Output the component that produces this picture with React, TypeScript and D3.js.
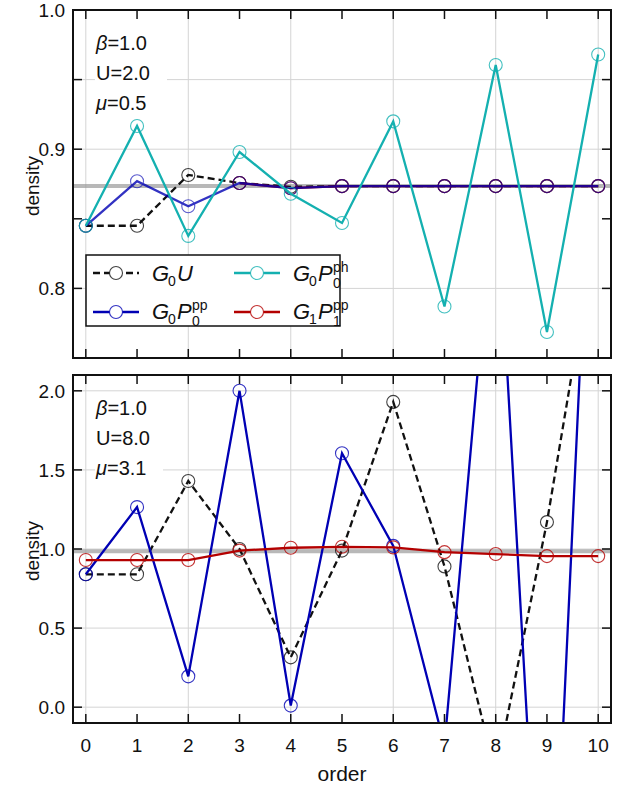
import * as d3 from "d3";

const orders = [0, 1, 2, 3, 4, 5, 6, 7, 8, 9, 10];
const orderLabels = ["0", "1", "2", "3", "4", "5", "6", "7", "8", "9", "10"];
const gridOrders = [0, 2, 4, 6, 8, 10];

// top panel: beta=1, U=2, mu=0.5
const topG0U = [0.845, 0.845, 0.8815, 0.8757, 0.873, 0.8735, 0.8735, 0.8735, 0.8735, 0.8735, 0.8735];
const topG0Ppp = [0.845, 0.877, 0.859, 0.8757, 0.872, 0.8735, 0.8735, 0.8735, 0.8735, 0.8735, 0.8735];
const topG0Pph = [0.845, 0.9167, 0.8377, 0.898, 0.868, 0.847, 0.92, 0.787, 0.9605, 0.7687, 0.968];
const topG1Ppp = [null, null, null, 0.8757, 0.872, 0.8735, 0.8735, 0.8735, 0.8735, 0.8735, 0.8735];
const topRef = 0.8736;
const topTicks = [0.8, 0.85, 0.9, 0.95, 1.0];
const topLabelTicks = [0.8, 0.9, 1.0];
const topLabels = ["0.8", "0.9", "1.0"];
const topGrid = [0.8, 0.9, 0.95];

// bottom panel: beta=1, U=8, mu=3.1
const botG0U = [0.84, 0.84, 1.43, 1.0, 0.315, 0.99, 1.93, 0.89, -0.42, 1.17, 3.1];
const botG0Ppp = [0.84, 1.265, 0.195, 2.0, 0.01, 1.605, 1.02, -0.24, 3.4, -2.3, 4.6];
const botG1Ppp = [0.93, 0.93, 0.93, 0.99, 1.008, 1.014, 1.01, 0.98, 0.968, 0.955, 0.955];
const botRef = 0.985;
const botTicks = [0, 0.5, 1.0, 1.5, 2.0];
const botLabels = ["0.0", "0.5", "1.0", "1.5", "2.0"];

const FONT = "'Liberation Sans', Arial, sans-serif";
const C_BLACK = "#111111";
const C_BLUE = "#0000b4";
const C_CYAN = "#14b0b0";
const C_RED = "#b40000";
const DASH = "7,4";

const left = 73;
const right = 611;
const x = d3.scaleLinear().domain([-0.25, 10.25]).range([left, right]);

type Series = { values: (number | null)[]; color: string; dash?: string; opacity?: number };

function Panel({ id, top, bottom, domain, ticks, labelTicks, labels, grid, ref0, series, notes, showXLabels }: any) {
  const y = d3.scaleLinear().domain(domain).range([bottom, top]);
  const line = d3
    .line<[number, number | null]>()
    .defined((d) => d[1] != null)
    .x((d) => x(d[0]))
    .y((d) => y(d[1] as number));
  const tl = 9;
  return (
    <g>
      <defs>
        <clipPath id={id}>
          <rect x={left} y={top} width={right - left} height={bottom - top} />
        </clipPath>
      </defs>
      <g stroke="#d4d4d4" strokeWidth={1}>
        {gridOrders.map((o) => (
          <line key={"gx" + o} x1={x(o)} x2={x(o)} y1={top} y2={bottom} />
        ))}
        {grid.map((v: number) => (
          <line key={"gy" + v} x1={left} x2={right} y1={y(v)} y2={y(v)} />
        ))}
      </g>
      <g clipPath={`url(#${id})`}>
        <line x1={left} x2={right} y1={y(ref0)} y2={y(ref0)} stroke="#9a9a9a" strokeOpacity={0.7} strokeWidth={4} />
        {series.map((s: Series, i: number) => {
          const pts = orders.map((o, k) => [o, s.values[k]] as [number, number | null]);
          return (
            <g key={i} opacity={s.opacity ?? 1}>
              <path d={line(pts) || ""} fill="none" stroke={s.color} strokeWidth={2.3} strokeDasharray={s.dash} />
              {pts
                .filter((p) => p[1] != null)
                .map((p) => (
                  <circle key={p[0]} cx={x(p[0])} cy={y(p[1] as number)} r={6.5} fill="none" stroke={s.color} strokeOpacity={0.8} strokeWidth={1.1} />
                ))}
            </g>
          );
        })}
      </g>
      {notes.map((n: any, i: number) => (
        <g key={"n" + i}>
          <rect x={95} y={top + 22 + i * 30} width={n.w} height={26} fill="white" />
          <text x={96} y={top + 40 + i * 30} fontSize={20} fontFamily={FONT} fill="#111">
            <tspan fontStyle={n.italic ? "italic" : "normal"}>{n.sym}</tspan>
            {n.rest}
          </text>
        </g>
      ))}
      <g stroke="#111" strokeWidth={1.5}>
        {orders.map((o) => (
          <g key={"t" + o}>
            <line x1={x(o)} x2={x(o)} y1={bottom} y2={bottom - tl} />
            <line x1={x(o)} x2={x(o)} y1={top} y2={top + tl} />
          </g>
        ))}
        {ticks.map((v: number) => (
          <g key={"yt" + v}>
            <line x1={left} x2={left + tl} y1={y(v)} y2={y(v)} />
            <line x1={right} x2={right - tl} y1={y(v)} y2={y(v)} />
          </g>
        ))}
        <rect x={left} y={top} width={right - left} height={bottom - top} fill="none" strokeWidth={2} />
      </g>
      <g fontFamily={FONT} fontSize={19} fill="#111" textAnchor="end">
        {labelTicks.map((v: number, i: number) => (
          <text key={"yl" + v} x={left - 8} y={y(v) + 7}>
            {labels[i]}
          </text>
        ))}
      </g>
      {showXLabels && (
        <g fontFamily={FONT} fontSize={19} fill="#111" textAnchor="middle">
          {orders.map((o, i) => (
            <text key={"xl" + o} x={x(o)} y={bottom + 29}>
              {orderLabels[i]}
            </text>
          ))}
        </g>
      )}
      <text
        transform={`translate(${left - 34},${(top + bottom) / 2 + 2}) rotate(-90)`}
        textAnchor="middle"
        fontFamily={FONT}
        fontSize={19}
        fill="#111"
      >
        density
      </text>
    </g>
  );
}

// mathtext-like label: G_g P_sub^sup (or G_g U)
function MathLabel({ x0, y0, g, main, sub2, sup }: { x0: number; y0: number; g: string; main: string; sub2?: string; sup?: string }) {
  const fs = 22;
  const ss = 14;
  return (
    <g fontFamily={FONT} fill="#111">
      <text x={x0} y={y0} fontSize={fs} fontStyle="italic">G</text>
      <text x={x0 + 16} y={y0 + 5} fontSize={ss}>{g}</text>
      <text x={x0 + 25} y={y0} fontSize={fs} fontStyle="italic">{main}</text>
      {sub2 && (
        <text x={x0 + 40} y={y0 + 7} fontSize={ss}>{sub2}</text>
      )}
      {sup && (
        <text x={x0 + 40} y={y0 - 9} fontSize={ss}>{sup}</text>
      )}
    </g>
  );
}

function Legend() {
  const entries = [
    { c: C_BLACK, dash: DASH, x1: 93, y: 273 },
    { c: C_BLUE, dash: undefined, x1: 93, y: 312 },
    { c: C_CYAN, dash: undefined, x1: 234, y: 273 },
    { c: C_RED, dash: undefined, x1: 234, y: 312 },
  ];
  return (
    <g>
      <rect x={86} y={255} width={254} height={71} fill="white" stroke="#111" strokeWidth={1.5} />
      {entries.map((e, i) => (
        <g key={i}>
          <line x1={e.x1} x2={e.x1 + 46} y1={e.y} y2={e.y} stroke={e.c} strokeWidth={2.3} strokeDasharray={e.dash} />
          <circle cx={e.x1 + 23} cy={e.y} r={6.5} fill="white" stroke={e.c} strokeOpacity={0.8} strokeWidth={1.1} />
        </g>
      ))}
      <MathLabel x0={152} y0={281} g="0" main="U" />
      <MathLabel x0={152} y0={319} g="0" main="P" sub2="0" sup="pp" />
      <MathLabel x0={293} y0={281} g="0" main="P" sub2="0" sup="ph" />
      <MathLabel x0={293} y0={319} g="1" main="P" sub2="1" sup="pp" />
    </g>
  );
}

export default function App() {
  const topSeries: Series[] = [
    { values: topG0U, color: C_BLACK, dash: DASH },
    { values: topG1Ppp, color: C_RED },
    { values: topG0Ppp, color: C_BLUE, opacity: 0.8 },
    { values: topG0Pph, color: C_CYAN },
  ];
  const botSeries: Series[] = [
    { values: botG0U, color: C_BLACK, dash: DASH },
    { values: botG0Ppp, color: C_BLUE },
    { values: botG1Ppp, color: C_RED },
  ];
  return (
    <svg width={625} height={790} style={{ position: "absolute", left: 0, top: 0, background: "white" }}>
      <Panel
        id="clipTop"
        top={10}
        bottom={358}
        domain={[0.75, 1.0]}
        ticks={topTicks}
        labelTicks={topLabelTicks}
        labels={topLabels}
        grid={topGrid}
        ref0={topRef}
        series={topSeries}
        showXLabels={false}
        notes={[
          { sym: "β", italic: true, rest: "=1.0", w: 70 },
          { sym: "U", italic: false, rest: "=2.0", w: 72 },
          { sym: "μ", italic: true, rest: "=0.5", w: 68 },
        ]}
      />
      <Legend />
      <Panel
        id="clipBot"
        top={375}
        bottom={723}
        domain={[-0.1, 2.1]}
        ticks={botTicks}
        labelTicks={botTicks}
        labels={botLabels}
        grid={botTicks}
        ref0={botRef}
        series={botSeries}
        showXLabels={true}
        notes={[
          { sym: "β", italic: true, rest: "=1.0", w: 70 },
          { sym: "U", italic: false, rest: "=8.0", w: 72 },
          { sym: "μ", italic: true, rest: "=3.1", w: 68 },
        ]}
      />
      <text x={x(5)} y={781} textAnchor="middle" fontFamily={FONT} fontSize={21} fill="#111">
        order
      </text>
    </svg>
  );
}
